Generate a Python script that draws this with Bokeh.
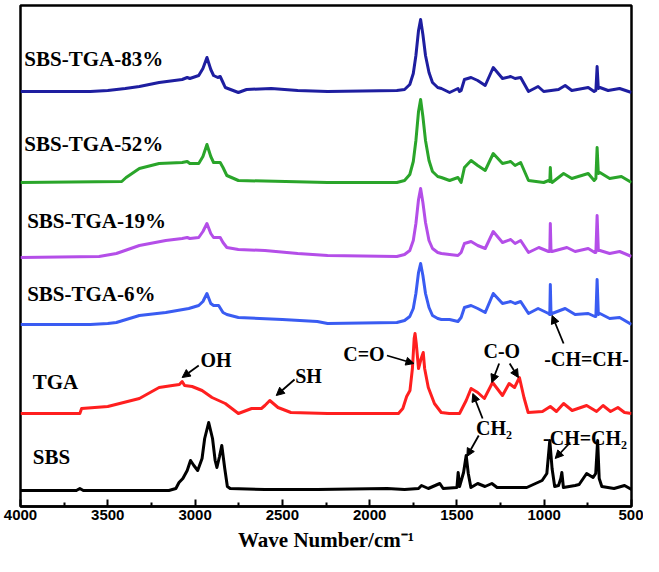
from bokeh.plotting import figure
from bokeh.models import Range1d, FixedTicker, Arrow, NormalHead, Label
from bokeh.embed import file_html
from bokeh.resources import INLINE

# ---- data (wavenumber cm^-1, stacked intensity in plot units) ----
sbs_wn = [4000, 3680, 3660, 3640, 3150, 3110, 3092, 3070, 3045, 3026, 3007, 2985, 2960, 2945,
          2922, 2900, 2885, 2875, 2860, 2847, 2830, 2815, 2799, 2600, 2300, 1900, 1800, 1720,
          1703, 1664, 1598, 1579, 1500, 1493, 1485, 1462, 1447, 1435, 1420, 1381, 1339, 1300,
          1270, 1100, 1012, 985, 968, 955, 940, 918, 905, 899, 890, 823, 800, 757, 720, 705,
          694, 685, 670, 600, 540, 500]
sbs_y = [18, 18, 20, 18, 18, 20, 26, 30, 38, 48, 43, 38, 50, 70,
         86, 70, 48, 41, 52, 63, 40, 22, 20, 19, 19, 20, 19, 20,
         23, 20, 25, 20, 21, 36, 22, 36, 53, 35, 21, 25, 22, 25,
         21, 21, 28, 35, 68, 40, 22, 23, 30, 36, 21, 23, 24, 35, 31, 35,
         68, 30, 22, 20, 23, 19]

tga_wn = [4000, 3660, 3650, 3500, 3319, 3206, 3130, 3090, 3074, 3060, 3017, 2960, 2903, 2827,
          2752, 2676, 2620, 2600, 2572, 2525, 2451, 2241, 1835, 1810, 1788, 1769, 1755, 1745,
          1740, 1733, 1720, 1705, 1693, 1685, 1664, 1629, 1590, 1544, 1485, 1447, 1419, 1381,
          1343, 1296, 1239, 1201, 1170, 1142, 1116, 1092, 1010, 965, 930, 889, 840, 757, 700,
          663, 620, 578, 540, 500]
tga_y = [95, 95, 100, 102, 110, 121, 123, 124, 127, 123, 122, 118, 111, 105,
         95, 100, 100, 103, 108, 101, 96, 95, 95, 100, 112, 118, 140, 170,
         175, 165, 140, 150, 156, 140, 121, 105, 96, 95, 95, 108, 120, 116,
         110, 126, 113, 125, 121, 131, 111, 96, 97, 102, 97, 105, 98, 103, 97,
         103, 97, 101, 96, 95]

p6_wn = [4000, 3600, 3500, 3451, 3319, 3168, 3036, 2979, 2955, 2932, 2910, 2894, 2865, 2840,
         2818, 2752, 2500, 2300, 2241, 1844, 1800, 1770, 1750, 1735, 1720, 1708, 1695, 1680,
         1660, 1640, 1610, 1589, 1542, 1494, 1476, 1457, 1419, 1381, 1338, 1292, 1239, 1192,
         1167, 1135, 1090, 1035, 975, 968, 965, 961, 955, 880, 823, 748, 710, 704, 697, 690,
         681, 625, 568, 500]
p6_y = [184, 184, 185, 186, 193, 196, 200, 203, 207, 215, 205, 203, 203, 196,
        194, 191, 189, 187, 185, 186, 188, 192, 200, 215, 236, 245, 233, 215,
        201, 193, 190, 189, 189, 187, 191, 201, 203, 200, 196, 215, 205, 207,
        205, 207, 195, 200, 195, 194, 224, 194, 195, 200, 194, 195, 192, 192, 229, 194,
        195, 190, 191, 184]

p19_wn = [4000, 3550, 3451, 3319, 3168, 3074, 3045, 3030, 2979, 2955, 2932, 2910, 2894, 2856,
          2840, 2818, 2752, 2600, 2412, 2241, 1844, 1800, 1770, 1750, 1735, 1720, 1708, 1695,
          1680, 1660, 1640, 1610, 1589, 1542, 1494, 1476, 1457, 1419, 1381, 1338, 1292, 1239,
          1192, 1167, 1135, 1090, 1031, 975, 968, 965, 961, 955, 870, 823, 748, 710, 704, 697,
          690, 681, 625, 568, 500]
p19_y = [251, 252, 255, 263, 268, 270, 271, 270, 271, 277, 285, 275, 271, 271,
         266, 261, 259, 258, 255, 253, 252, 254, 258, 268, 285, 309, 320, 306,
         286, 268, 260, 256, 255, 254, 253, 256, 265, 267, 263, 260, 277, 266,
         269, 265, 268, 256, 261, 257, 257, 285, 257, 257, 261, 257, 260, 256, 256, 293,
         258, 258, 255, 257, 252]

p52_wn = [4000, 3420, 3395, 3319, 3206, 3074, 3045, 3030, 2979, 2955, 2932, 2910, 2894, 2856,
          2840, 2818, 2752, 2241, 1844, 1800, 1770, 1750, 1735, 1720, 1708, 1695, 1680, 1660,
          1640, 1610, 1589, 1542, 1494, 1476, 1457, 1419, 1381, 1338, 1292, 1239, 1192, 1167,
          1135, 1090, 1003, 975, 968, 965, 961, 955, 889, 842, 748, 714, 704, 697, 690, 681,
          625, 558, 500]
p52_y = [326, 327, 331, 340, 345, 346, 347, 345, 345, 352, 364, 352, 346, 346,
         341, 333, 328, 326, 326, 328, 334, 347, 368, 397, 409, 392, 368, 348,
         337, 332, 331, 328, 331, 326, 341, 348, 343, 338, 355, 345, 347, 343,
         346, 328, 326, 328, 327, 341, 327, 326, 335, 330, 335, 328, 330, 361, 335, 336,
         330, 332, 326]

p83_wn = [4000, 3600, 3500, 3400, 3319, 3206, 3074, 3045, 3030, 2979, 2955, 2932, 2910, 2894,
          2870, 2856, 2840, 2827, 2752, 2705, 2563, 2412, 2241, 1844, 1800, 1770, 1750, 1735,
          1720, 1708, 1695, 1680, 1660, 1640, 1610, 1589, 1542, 1494, 1485, 1476, 1457, 1419,
          1381, 1338, 1292, 1239, 1192, 1167, 1135, 1090, 1035, 1003, 918, 880, 842, 748, 714,
          704, 697, 690, 681, 634, 568, 500]
p83_y = [417, 417, 418, 420, 422, 426, 429, 431, 430, 433, 440, 451, 439, 433,
         431, 432, 426, 421, 416, 419, 420, 418, 417, 418, 419, 424, 435, 453,
         478, 489, 474, 453, 436, 426, 421, 420, 416, 420, 417, 418, 429, 431,
         428, 423, 441, 430, 432, 430, 431, 417, 422, 417, 419, 423, 418, 421, 417,
         418, 442, 420, 421, 418, 420, 416]

series_names = ["SBS", "TGA", "SBS-TGA-6%", "SBS-TGA-19%", "SBS-TGA-52%", "SBS-TGA-83%"]
series_wn = [sbs_wn, tga_wn, p6_wn, p19_wn, p52_wn, p83_wn]
series_y = [sbs_y, tga_y, p6_y, p19_y, p52_y, p83_y]
series_colors = ["#000000", "#ff1f1f", "#3a5cf2", "#b44ee8", "#2aa52a", "#1e1ea0"]
# label anchor (left edge wavenumber, height)
label_x = [3930, 3930, 3962, 3962, 3978, 3978]
label_y = [52, 127, 215, 288, 365, 450]

x_ticks = [4000, 3500, 3000, 2500, 2000, 1500, 1000, 500]
x_minor = [3750, 3250, 2750, 2250, 1750, 1250, 750]

# annotations: text, x, y
ann_text = ["OH", "SH", "C=O", "C-O", "CH\u2082", "-CH=CH-", "-CH=CH\u2082"]
ann_x = [2880, 2350, 2033, 1243, 1288, 757, 766]
ann_y = [149, 133, 155, 158, 81, 150, 71]
# arrows: start x, start y, end x, end y
arr_x0 = [2979, 2430, 1901, 1258, 1198, 1353, 1375, 889, 851]
arr_y0 = [143, 129, 153, 145, 145, 90, 73, 165, 66]
arr_x1 = [3074, 2535, 1746, 1300, 1148, 1409, 1443, 955, 937]
arr_y1 = [131, 113, 145, 126, 131, 115, 52, 193, 50]

SERIF = "Liberation Serif"

p = figure(width=643, height=556, output_backend="svg", toolbar_location=None,
           x_range=Range1d(4000, 500), y_range=Range1d(2, 503),
           y_axis_location=None, min_border_left=20, min_border_right=12,
           min_border_top=5, min_border_bottom=50)
p.xgrid.visible = False
p.ygrid.visible = False
p.outline_line_color = "black"
p.outline_line_width = 2.5
p.background_fill_color = "white"
p.border_fill_color = "white"

for wn, yy, c in zip(series_wn, series_y, series_colors):
    p.line(wn, yy, line_color=c, line_width=3, line_join="round")

for name, lx, ly in zip(series_names, label_x, label_y):
    p.add_layout(Label(x=lx, y=ly, text=name, text_font=SERIF, text_font_style="bold",
                       text_font_size="21px", text_baseline="middle", text_align="left",
                       text_color="black"))

for t, ax, ay in zip(ann_text, ann_x, ann_y):
    p.add_layout(Label(x=ax, y=ay, text=t, text_font=SERIF, text_font_style="bold",
                       text_font_size="20px", text_baseline="middle", text_align="center",
                       text_color="black"))

for x0, y0, x1, y1 in zip(arr_x0, arr_y0, arr_x1, arr_y1):
    p.add_layout(Arrow(x_start=x0, y_start=y0, x_end=x1, y_end=y1, line_width=1.8,
                       line_color="black",
                       end=NormalHead(size=8, fill_color="black", line_color="black")))

ax = p.xaxis[0]
ax.ticker = FixedTicker(ticks=x_ticks, minor_ticks=x_minor)
ax.axis_line_width = 2.5
ax.axis_line_color = "black"
ax.major_tick_in = 7
ax.major_tick_out = 0
ax.minor_tick_in = 4
ax.minor_tick_out = 0
ax.major_tick_line_width = 2
ax.minor_tick_line_width = 2
ax.major_label_text_font = "Liberation Sans"
ax.major_label_text_font_style = "bold"
ax.major_label_text_font_size = "15px"
ax.major_label_text_color = "black"
ax.major_label_standoff = 3
ax.axis_label = "Wave Number/cm\u207b\u00b9"
ax.axis_label_text_font = SERIF
ax.axis_label_text_font_style = "bold"
ax.axis_label_text_font_size = "21px"
ax.axis_label_text_color = "black"
ax.axis_label_standoff = 5

open("out.html", "w").write(file_html(p, INLINE))
